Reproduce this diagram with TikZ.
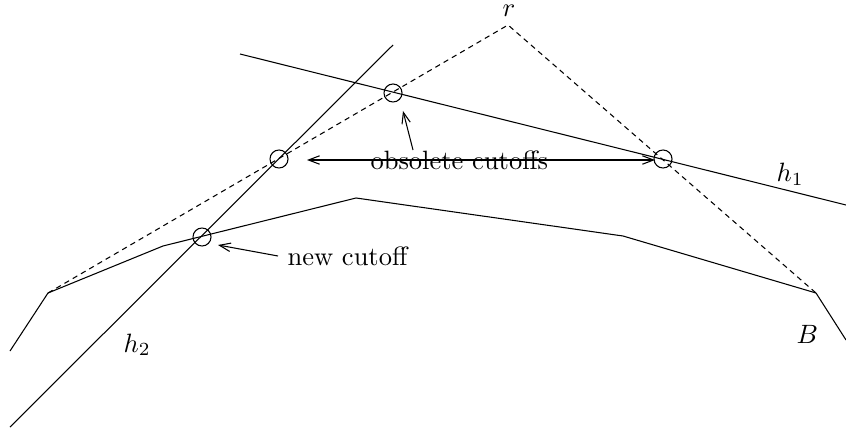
\documentclass[tikz,border=0pt]{standalone}
\usetikzlibrary{arrows.meta}
\begin{document}
\begin{tikzpicture}[x=0.3774pt,y=-0.3774pt,
  line width=0.4pt,
  hull/.style={line width=0.4pt},
  dashline/.style={dash pattern=on 2pt off 1.6pt},
  cutmark/.style={circle,draw,inner sep=0pt,minimum size=6.8pt},
  lab/.style={inner sep=0pt,anchor=base west,font=\fontsize{10}{12}\selectfont},
  pointer/.style={-{Straight Barb[length=4.2pt,width=3.2pt]}}]
\useasboundingbox (0,0) rectangle (846,433);
% polyline B
\coordinate (b0) at (10,351);
\coordinate (b1) at (48,293);
\coordinate (b2) at (163,246);
\coordinate (b3) at (356,198);
\coordinate (b4) at (623,236);
\coordinate (b5) at (816,293);
\coordinate (b6) at (846,340);
\draw[hull] (b0) -- (b1) -- (b2) -- (b3) -- (b4) -- (b5) -- (b6);
% apex r
\coordinate (r) at (508,25);
\draw[dashline] (b1) -- (r) -- (b5);
% h1 and h2
\coordinate (h1a) at (240,54);
\coordinate (h1b) at (846,205);
\draw (h1a) -- (h1b);
\coordinate (h2a) at (393,45);
\coordinate (h2b) at (10,427);
\draw (h2a) -- (h2b);
% labels
\node[lab] (rl) at (502,17) {$r$};
\node[lab] (h1l) at (776,182) {$h_1$};
\node[lab] (h2l) at (123,352) {$h_2$};
\node[lab] (bl) at (796,343) {$B$};
% cutoff circles
\node[cutmark] (ctop) at (393,93) {};
\node[cutmark] (cleft) at (279,159) {};
\node[cutmark] (cright) at (663,159) {};
\node[cutmark] (cnew) at (202,237) {};
% texts
\node[lab] (oc) at (370,170) {obsolete cutoffs};
\node[lab] (nc) at (287,265) {new cutoff};
% pointers
\coordinate (ocmid) at (458,160);
\coordinate (pl) at (307,160);
\coordinate (pr) at (655,160);
\coordinate (upstart) at (413,150);
\coordinate (upend) at (403,111);
\coordinate (ncstart) at (278,256);
\coordinate (ncend) at (218,245);
\draw[pointer] (ocmid) -- (pl);
\draw[pointer] (ocmid) -- (pr);
\draw[pointer] (upstart) -- (upend);
\draw[pointer] (ncstart) -- (ncend);
\end{tikzpicture}
\end{document}
